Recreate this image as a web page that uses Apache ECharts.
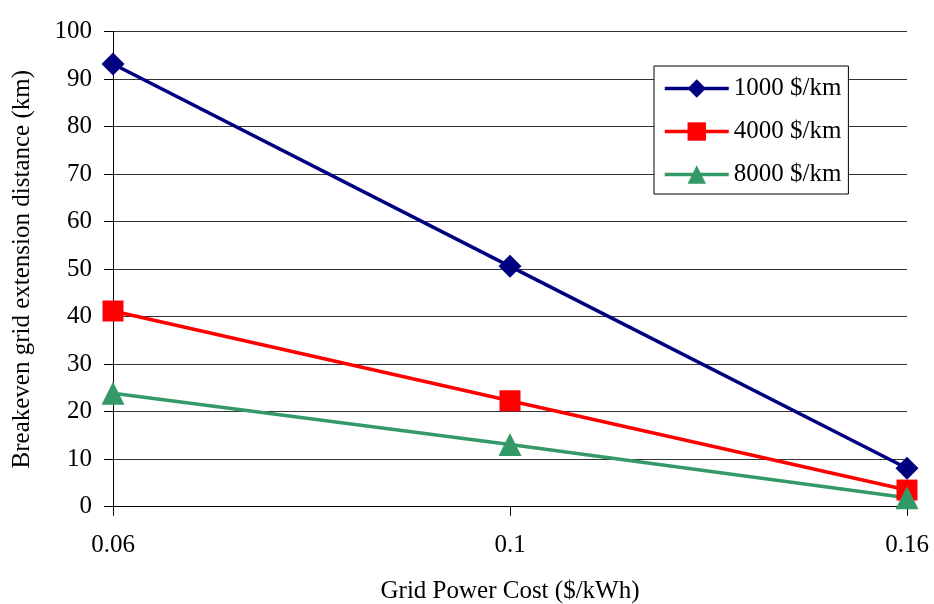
<!DOCTYPE html>
<html><head><meta charset="utf-8">
<script src="https://cdn.jsdelivr.net/npm/echarts@6/dist/echarts.min.js"></script>
<style>html,body{margin:0;padding:0;background:#fff}#c{width:934px;height:604px}</style>
</head><body><div id="c"></div>
<script>
const categories = ['0.06', '0.1', '0.16'];
const s1000 = [93.2, 50.6, 8.1];
const s4000 = [41.2, 22.3, 3.5];
const s8000 = [23.9, 13.1, 1.9];
const seriesNames = ['1000 $/km', '4000 $/km', '8000 $/km'];
const font = 'Liberation Serif';
const chart = echarts.init(document.getElementById('c'));
chart.setOption({
  animation: false,
  grid: {left: 113, right: 27, top: 31.7, bottom: 97.3, containLabel: false, outerBoundsMode: 'none'},
  xAxis: {
    type: 'category', data: categories, boundaryGap: false,
    name: 'Grid Power Cost ($/kWh)', nameLocation: 'middle', nameGap: 72,
    nameTextStyle: {fontFamily: font, fontSize: 25, color: '#000'},
    axisLine: {lineStyle: {color: '#000', width: 1}},
    axisTick: {show: true, length: 9, lineStyle: {color: '#000'}},
    axisLabel: {fontFamily: font, fontSize: 25, color: '#000', margin: 26},
    splitLine: {show: false}
  },
  yAxis: {
    type: 'value', min: 0, max: 100, interval: 10,
    name: 'Breakeven grid extension distance (km)', nameLocation: 'middle', nameGap: 78,
    nameTextStyle: {fontFamily: font, fontSize: 25, color: '#000'},
    axisLine: {show: true, lineStyle: {color: '#000', width: 1}},
    axisTick: {show: true, length: 9, lineStyle: {color: '#000'}},
    axisLabel: {fontFamily: font, fontSize: 25, color: '#000', margin: 21},
    splitLine: {show: true, lineStyle: {color: '#333', width: 1}}
  },
  legend: {
    left: 654, top: 66, orient: 'vertical',
    backgroundColor: '#fff', borderColor: '#000', borderWidth: 1,
    padding: [10, 7, 7, 9], itemGap: 18, itemWidth: 64, itemHeight: 23,
    lineStyle: {width: 3.5},
    textStyle: {fontFamily: font, fontSize: 25, color: '#000'},
    data: seriesNames
  },
  series: [
    {name: seriesNames[0], type: 'line', data: s1000, symbol: 'diamond', symbolSize: 23,
     itemStyle: {color: '#000080'}, lineStyle: {color: '#000080', width: 3.5}},
    {name: seriesNames[1], type: 'line', data: s4000, symbol: 'rect', symbolSize: 21,
     itemStyle: {color: '#ff0000'}, lineStyle: {color: '#ff0000', width: 3.5}},
    {name: seriesNames[2], type: 'line', data: s8000, symbol: 'triangle', symbolSize: [23, 23],
     itemStyle: {color: '#339966'}, lineStyle: {color: '#339966', width: 3.5}}
  ]
});
</script></body></html>
